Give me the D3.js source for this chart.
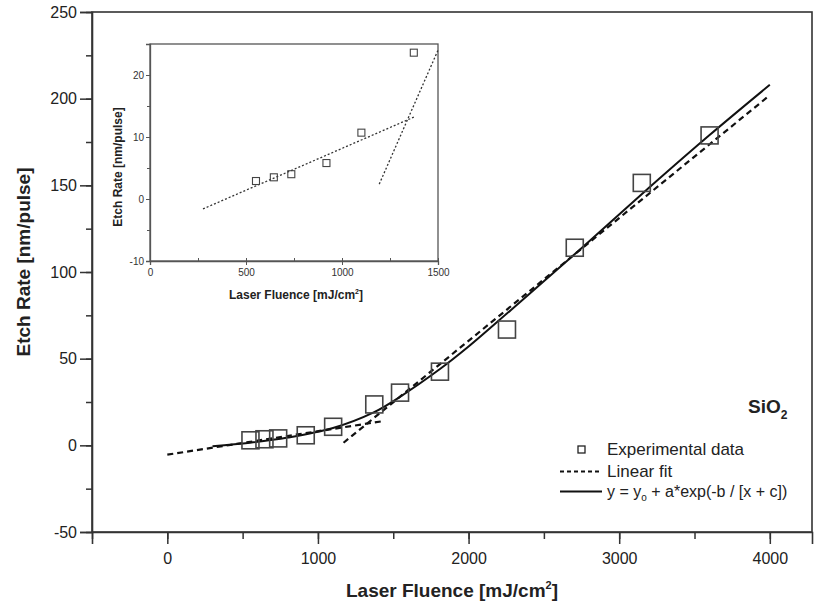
<!DOCTYPE html>
<html>
<head>
<meta charset="utf-8">
<script src="https://cdn.jsdelivr.net/npm/d3@7"></script>
<style>
  body { margin: 0; background: #fff; }
  svg { font-family: "Liberation Sans", Arial, sans-serif; }
</style>
</head>
<body>
<div id="chart"></div>
<script>
const width = 814, height = 606;

// experimental data (main plot and inset share the same points)
const fluence = [552, 645, 736, 919, 1101, 1374, 1545, 1810, 2255, 2705, 3150, 3600];
const etchRate = [2.9, 3.5, 4.0, 5.8, 10.7, 23.6, 30.4, 42.5, 66.8, 114, 151.4, 178.8];

// exponential fit curve
const fitX = [300, 550, 800, 1100, 1370, 1545, 1810, 2000, 2280, 2740, 3190, 3600, 4000];
const fitY = [-0.5, 1.5, 4.5, 10, 19, 28, 44, 57, 78, 113, 148, 179, 208];

// linear fits, end points
const lin1X = [0, 1420], lin1Y = [-5.4, 13.8];
const lin2X = [1170, 4000], lin2Y = [1.5, 202];
const inLin1X = [276, 1374], inLin1Y = [-1.6, 13.2];
const inLin2X = [1194, 1500], inLin2Y = [2.4, 24];

const xTicks = [0, 1000, 2000, 3000, 4000];
const yTicks = [-50, 0, 50, 100, 150, 200, 250];
const inXTicks = [0, 500, 1000, 1500];
const inYTicks = [-10, 0, 10, 20];

const ink = "#222";
const plain = d => String(d);

const svg = d3.select("#chart").append("svg")
    .attr("width", width)
    .attr("height", height);

// ---------- main plot ----------
const x = d3.scaleLinear().domain([-500, 4280]).range([92, 812]);
const y = d3.scaleLinear().domain([-50, 250]).range([532, 12]);

// frame
svg.append("rect")
    .attr("x", x.range()[0]).attr("y", y.range()[1])
    .attr("width", x.range()[1] - x.range()[0])
    .attr("height", y.range()[0] - y.range()[1])
    .attr("fill", "none").attr("stroke", "#333").attr("stroke-width", 1.6);

// minor ticks
svg.append("g")
    .attr("transform", "translate(0," + y.range()[0] + ")")
    .call(d3.axisBottom(x).tickValues(d3.range(-500, 4300, 500)).tickSize(7).tickFormat(""))
    .call(g => g.select(".domain").remove());
svg.append("g")
    .attr("transform", "translate(" + x.range()[0] + ",0)")
    .call(d3.axisLeft(y).tickValues(d3.range(-50, 251, 25)).tickSize(6).tickFormat(""))
    .call(g => g.select(".domain").remove());

const xAxis = svg.append("g")
    .attr("transform", "translate(0," + y.range()[0] + ")")
    .call(d3.axisBottom(x).tickValues(xTicks).tickSize(12).tickPadding(9).tickFormat(plain));
const yAxis = svg.append("g")
    .attr("transform", "translate(" + x.range()[0] + ",0)")
    .call(d3.axisLeft(y).tickValues(yTicks).tickSize(12).tickPadding(3).tickFormat(plain));

svg.selectAll(".domain").attr("stroke", "#333").attr("stroke-width", 1.6);
svg.selectAll(".tick line").attr("stroke", "#333").attr("stroke-width", 1.5);
[xAxis, yAxis].forEach(a => a.selectAll("text")
    .attr("fill", ink).style("font-size", "16px")
    .style("font-family", "'Liberation Sans', Arial, sans-serif"));

// axis titles
svg.append("text")
    .attr("x", 452).attr("y", 597)
    .attr("text-anchor", "middle")
    .style("font-size", "19px").style("font-weight", "bold").attr("fill", ink)
    .text("Laser Fluence [mJ/cm")
    .append("tspan").attr("dy", -8).style("font-size", "11px").text("2")
    .select(function() { return this.parentNode; })
    .append("tspan").attr("dy", 8).text("]");

svg.append("text")
    .attr("transform", "translate(30,262) rotate(-90)")
    .attr("text-anchor", "middle")
    .style("font-size", "19px").style("font-weight", "bold").attr("fill", ink)
    .text("Etch Rate [nm/pulse]");

// lines
const line = d3.line().x(d => x(d[0])).y(d => y(d[1]));

svg.append("path")
    .datum(d3.zip(lin1X, lin1Y))
    .attr("d", line)
    .attr("fill", "none").attr("stroke", "#111").attr("stroke-width", 2.2)
    .attr("stroke-dasharray", "6,4");
svg.append("path")
    .datum(d3.zip(lin2X, lin2Y))
    .attr("d", line)
    .attr("fill", "none").attr("stroke", "#111").attr("stroke-width", 2.2)
    .attr("stroke-dasharray", "6,4");
svg.append("path")
    .datum(d3.zip(fitX, fitY))
    .attr("d", d3.line().x(d => x(d[0])).y(d => y(d[1])).curve(d3.curveCatmullRom))
    .attr("fill", "none").attr("stroke", "#111").attr("stroke-width", 2);

// squares
const size = 17;
svg.append("g").selectAll("rect")
    .data(d3.zip(fluence, etchRate))
    .enter()
    .append("rect")
    .attr("x", d => x(d[0]) - size / 2)
    .attr("y", d => y(d[1]) - size / 2)
    .attr("width", size).attr("height", size)
    .attr("fill", "none").attr("stroke", "#444").attr("stroke-width", 1.6);

// SiO2 label
svg.append("text")
    .attr("x", 748).attr("y", 413)
    .style("font-size", "19px").style("font-weight", "bold").attr("fill", ink)
    .text("SiO")
    .append("tspan").attr("dy", 6).style("font-size", "12px").text("2");

// legend
const leg = svg.append("g");
leg.append("rect")
    .attr("x", 578).attr("y", 446).attr("width", 7).attr("height", 7)
    .attr("fill", "none").attr("stroke", "#222").attr("stroke-width", 1.3);
leg.append("line")
    .attr("x1", 560).attr("x2", 602).attr("y1", 471.5).attr("y2", 471.5)
    .attr("stroke", "#111").attr("stroke-width", 1.8).attr("stroke-dasharray", "4,3");
leg.append("line")
    .attr("x1", 560).attr("x2", 602).attr("y1", 491.5).attr("y2", 491.5)
    .attr("stroke", "#111").attr("stroke-width", 1.8);
leg.append("text").attr("x", 607).attr("y", 455)
    .style("font-size", "17px").attr("fill", ink).text("Experimental data");
leg.append("text").attr("x", 607).attr("y", 477)
    .style("font-size", "17px").attr("fill", ink).text("Linear fit");
const f = leg.append("text").attr("x", 607).attr("y", 497)
    .style("font-size", "16px").attr("fill", ink);
f.append("tspan").text("y = y");
f.append("tspan").attr("dy", 4).style("font-size", "10px").text("o");
f.append("tspan").attr("dy", -4).text(" + a*exp(-b / [x + c])");

// ---------- inset ----------
const ix = d3.scaleLinear().domain([0, 1500]).range([150, 438]);
const iy = d3.scaleLinear().domain([-10, 25]).range([261, 44]);
const inset = svg.append("g");

inset.append("rect")
    .attr("x", 150).attr("y", 44).attr("width", 288).attr("height", 217)
    .attr("fill", "#fff").attr("stroke", "#555").attr("stroke-width", 1.3);

inset.append("g")
    .attr("transform", "translate(0,261)")
    .call(d3.axisBottom(ix).tickValues(d3.range(0, 1501, 250)).tickSize(-3).tickFormat(""))
    .call(g => g.select(".domain").remove());
inset.append("g")
    .attr("transform", "translate(150,0)")
    .call(d3.axisLeft(iy).tickValues(d3.range(-10, 26, 5)).tickSize(3).tickFormat(""))
    .call(g => g.select(".domain").remove());
const ixAxis = inset.append("g")
    .attr("transform", "translate(0,261)")
    .call(d3.axisBottom(ix).tickValues(inXTicks).tickSize(4).tickPadding(4).tickFormat(plain));
const iyAxis = inset.append("g")
    .attr("transform", "translate(150,0)")
    .call(d3.axisLeft(iy).tickValues(inYTicks).tickSize(4).tickPadding(2).tickFormat(plain));
inset.selectAll(".domain").attr("stroke", "#555").attr("stroke-width", 1.3);
inset.selectAll(".tick line").attr("stroke", "#555");
[ixAxis, iyAxis].forEach(a => a.selectAll("text")
    .attr("fill", "#333").style("font-size", "10px")
    .style("font-family", "'Liberation Sans', Arial, sans-serif"));

inset.append("text")
    .attr("x", 296).attr("y", 299)
    .attr("text-anchor", "middle")
    .style("font-size", "12px").style("font-weight", "bold").attr("fill", ink)
    .text("Laser Fluence [mJ/cm")
    .append("tspan").attr("dy", -5).style("font-size", "7px").text("2")
    .select(function() { return this.parentNode; })
    .append("tspan").attr("dy", 5).text("]");
inset.append("text")
    .attr("transform", "translate(122,167) rotate(-90)")
    .attr("text-anchor", "middle")
    .style("font-size", "12px").style("font-weight", "bold").attr("fill", ink)
    .text("Etch Rate [nm/pulse]");

const iline = d3.line().x(d => ix(d[0])).y(d => iy(d[1]));
[d3.zip(inLin1X, inLin1Y), d3.zip(inLin2X, inLin2Y)].forEach(seg => {
  inset.append("path")
      .datum(seg)
      .attr("d", iline)
      .attr("fill", "none").attr("stroke", "#333").attr("stroke-width", 1.3)
      .attr("stroke-dasharray", "2,2");
});

const isz = 7;
inset.append("g").selectAll("rect")
    .data(d3.zip(fluence, etchRate).filter(d => d[0] <= 1500))
    .enter()
    .append("rect")
    .attr("x", d => ix(d[0]) - isz / 2)
    .attr("y", d => iy(d[1]) - isz / 2)
    .attr("width", isz).attr("height", isz)
    .attr("fill", "none").attr("stroke", "#444").attr("stroke-width", 1.1);
</script>
</body>
</html>
